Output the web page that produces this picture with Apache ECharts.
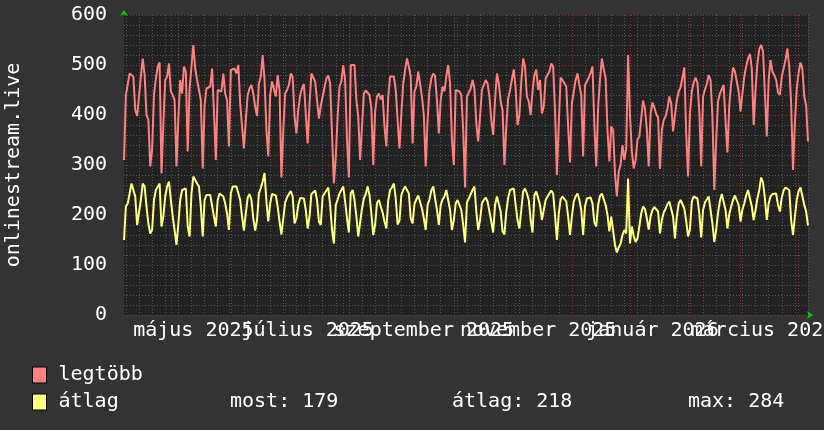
<!DOCTYPE html>
<html>
<head>
<meta charset="utf-8">
<title>onlinestream.live</title>
<script src="https://cdn.jsdelivr.net/npm/echarts@6/dist/echarts.min.js"></script>
<style>
  html, body { margin: 0; padding: 0; background: #333333; }
  #chart { width: 824px; height: 430px; }
</style>
</head>
<body>
<div id="chart"></div>
<script>
  // napi értékek, az első nap 2025-04-06
  const startDate = '2025-04-06'

  const legtobb = [
    310, 440, 437, 483, 485, 477, 410, 398, 437, 477, 513, 480, 400, 390, 297, 330, 440, 473, 497, 505,
    283, 383, 470, 477, 503, 447, 440, 430, 297, 393, 470, 443, 497, 487, 327, 453, 457, 540, 493, 470,
    473, 430, 293, 420, 453, 453, 457, 493, 407, 310, 450, 450, 447, 483, 443, 430, 337, 490, 493, 493,
    483, 500, 423, 377, 333, 390, 440, 453, 460, 443, 417, 398, 463, 477, 520, 470, 370, 317, 440, 467,
    465, 437, 480, 450, 275, 370, 443, 450, 460, 483, 477, 397, 363, 410, 440, 453, 462, 403, 343, 423,
    483, 480, 467, 430, 393, 418, 437, 437, 473, 479, 463, 363, 263, 317, 397, 457, 467, 500, 470, 350,
    275, 500, 503, 500, 430, 397, 310, 377, 443, 449, 449, 440, 413, 300, 407, 437, 443, 431, 440, 377,
    337, 437, 477, 480, 477, 450, 390, 333, 403, 463, 490, 513, 497, 477, 343, 447, 457, 487, 483, 437,
    400, 297, 390, 450, 473, 483, 478, 430, 363, 430, 457, 447, 477, 500, 463, 350, 300, 450, 453, 447,
    440, 370, 255, 437, 440, 453, 470, 453, 383, 347, 397, 450, 453, 470, 463, 437, 390, 360, 430, 483,
    463, 427, 410, 300, 377, 433, 450, 471, 491, 453, 380, 400, 467, 513, 497, 437, 427, 400, 447, 480,
    491, 450, 470, 403, 417, 473, 480, 487, 503, 497, 410, 280, 383, 475, 470, 469, 457, 377, 305, 423,
    447, 470, 483, 460, 440, 317, 460, 467, 475, 485, 497, 380, 297, 415, 470, 513, 492, 473, 370, 307,
    377, 370, 283, 237, 287, 301, 340, 310, 333, 520, 400, 327, 293, 310, 351, 357, 357, 429, 413, 370,
    297, 403, 425, 415, 402, 395, 292, 370, 390, 397, 413, 437, 423, 367, 370, 430, 447, 455, 453, 495,
    363, 277, 403, 447, 465, 475, 465, 407, 297, 437, 451, 462, 480, 470, 397, 250, 350, 427, 443, 442,
    460, 387, 325, 420, 463, 495, 487, 483, 447, 407, 443, 477, 497, 513, 522, 493, 380, 450, 503, 532,
    540, 527, 443, 357, 470, 510, 487, 480, 470, 445, 440, 477, 493, 510, 533, 497, 423, 290, 383, 453,
    485, 505, 493, 437, 419, 347
  ]

  const atlag = [
    150, 217, 223, 243, 263, 267, 237, 180, 177, 230, 263, 257, 217, 183, 163, 170, 230, 250, 250, 263,
    177, 197, 237, 257, 267, 230, 197, 170, 140, 183, 230, 250, 250, 253, 177, 157, 243, 277, 270, 263,
    257, 217, 157, 230, 240, 243, 240, 237, 197, 177, 230, 243, 243, 237, 223, 203, 170, 243, 257, 257,
    257, 255, 230, 197, 169, 203, 235, 242, 230, 193, 169, 190, 243, 254, 267, 284, 227, 187, 223, 242,
    243, 239, 217, 187, 161, 162, 225, 235, 242, 248, 237, 183, 193, 220, 234, 237, 233, 210, 173, 197,
    242, 240, 249, 230, 187, 180, 237, 243, 249, 255, 220, 170, 143, 220, 231, 243, 250, 257, 227, 193,
    165, 243, 250, 230, 197, 157, 160, 213, 233, 242, 257, 240, 203, 160, 180, 224, 230, 229, 205, 187,
    173, 229, 250, 255, 263, 233, 181, 189, 240, 250, 257, 261, 243, 193, 183, 222, 231, 239, 237, 213,
    193, 170, 220, 231, 249, 257, 253, 210, 180, 220, 231, 237, 250, 247, 210, 170, 190, 223, 230, 233,
    210, 180, 145, 225, 233, 237, 250, 257, 207, 170, 190, 223, 230, 235, 227, 207, 187, 165, 220, 237,
    237, 207, 167, 161, 207, 234, 250, 253, 253, 220, 190, 173, 210, 247, 253, 243, 230, 190, 165, 240,
    247, 244, 220, 190, 190, 230, 237, 243, 249, 243, 200, 150, 203, 231, 237, 237, 227, 197, 160, 197,
    227, 237, 243, 230, 210, 160, 217, 233, 235, 235, 223, 185, 177, 220, 238, 243, 243, 220, 200, 167,
    197, 198, 140, 125, 135, 143, 160, 170, 163, 273, 143, 177, 158, 146, 153, 177, 203, 217, 212, 193,
    171, 197, 210, 216, 217, 207, 163, 190, 205, 212, 222, 227, 230, 197, 153, 197, 223, 230, 234, 213,
    188, 157, 172, 227, 237, 234, 233, 203, 155, 210, 225, 231, 237, 240, 183, 146, 170, 205, 228, 242,
    243, 210, 173, 202, 217, 230, 239, 240, 220, 187, 211, 223, 239, 250, 247, 217, 190, 210, 233, 250,
    275, 265, 233, 190, 223, 237, 242, 240, 243, 220, 207, 235, 249, 255, 259, 250, 190, 160, 197, 230,
    248, 255, 252, 220, 207, 179
  ]

  // feliratok a hónapok közepe táján, kéthavonta
  const monthLabels = ['május 2025', 'július 2025', 'szeptember 2025', 'november 2025', 'január 2026', 'március 2026']
  const monthLabelDates = ['2025-05-13', '2025-07-13', '2025-09-13', '2025-11-13', '2026-01-13', '2026-03-13']

  const seriesNames = ['legtöbb', 'átlag']
  const seriesColors = ['#ff8080', '#ffff80']
  const statTexts = ['most: 179', 'átlag: 218', 'max: 284']

  const font = 'DejaVu Sans Mono'
  const textColor = '#ffffff'
  const minorGrid = '#555555'
  const majorGrid = '#843232'

  const days = legtobb.map((v, i) => {
    const d = new Date(Date.parse(startDate + 'T00:00:00Z') + i * 86400000)
    return d.toISOString().slice(0, 10)
  })

  // a feliratok egymásra lógnak, ezért két tengelyre osztjuk őket (páros / páratlan)
  function monthLabel(part) {
    return {
      interval: (i, v) => {
        const k = monthLabelDates.indexOf(v)
        return k >= 0 && k % 2 === part
      },
      formatter: v => monthLabels[monthLabelDates.indexOf(v)] || '',
      color: textColor,
      fontFamily: font,
      fontSize: 20,
      margin: 6,
      hideOverlap: false,
      showMinLabel: true,
      showMaxLabel: true
    }
  }

  const chart = echarts.init(document.getElementById('chart'))

  chart.setOption({
    animation: false,
    backgroundColor: '#333333',
    grid: {
      left: 124,
      right: 16,
      top: 15,
      bottom: 115,
      show: true,
      backgroundColor: '#222222',
      borderWidth: 0,
      outerBoundsMode: 'none'
    },
    legend: {
      orient: 'vertical',
      left: 27,
      top: 360,
      icon: 'rect',
      itemWidth: 14,
      itemHeight: 16,
      itemGap: 7,
      selectedMode: false,
      itemStyle: {
        borderColor: '#000000',
        borderWidth: 1
      },
      textStyle: {
        color: textColor,
        fontFamily: font,
        fontSize: 20,
        padding: [0, 0, 0, 7]
      },
      data: seriesNames
    },
    graphic: statTexts.map((t, i) => ({
      type: 'text',
      x: [230, 452, 688][i],
      y: 402,
      style: {
        text: t,
        fill: textColor,
        font: '20px "' + font + '"',
        verticalAlign: 'middle'
      }
    })),
    xAxis: [
      {
        type: 'category',
        data: days,
        boundaryGap: false,
        axisLine: {
          show: true,
          symbol: ['none', 'arrow'],
          symbolSize: [6, 6],
          symbolOffset: [0, 5],
          lineStyle: { color: '#00cc00', width: 0 }
        },
        axisTick: { show: false },
        axisLabel: monthLabel(0),
        splitLine: {
          show: true,
          interval: i => i % 7 === 1,
          lineStyle: { color: minorGrid, type: [1, 2], width: 1 }
        }
      },
      {
        type: 'category',
        data: days,
        boundaryGap: false,
        position: 'bottom',
        axisLine: { show: false },
        axisTick: { show: false },
        axisLabel: monthLabel(1),
        splitLine: {
          show: true,
          interval: (i, v) => v.slice(8) === '01',
          lineStyle: { color: majorGrid, type: [1, 2], width: 1 }
        }
      }
    ],
    yAxis: {
      type: 'value',
      min: 0,
      max: 600,
      interval: 100,
      name: 'onlinestream.live',
      nameLocation: 'middle',
      nameGap: 100,
      nameMoveOverlap: false,
      nameTextStyle: {
        color: textColor,
        fontFamily: font,
        fontSize: 20
      },
      axisLine: {
        show: true,
        symbol: ['none', 'arrow'],
        symbolSize: [6, 6],
        symbolOffset: [0, 5],
        lineStyle: { color: '#00cc00', width: 0 }
      },
      axisTick: { show: false },
      axisLabel: {
        color: textColor,
        fontFamily: font,
        fontSize: 20,
        margin: 17
      },
      splitLine: {
        lineStyle: { color: majorGrid, type: [1, 2], width: 1 }
      },
      minorTick: { show: false, splitNumber: 5 },
      minorSplitLine: {
        show: true,
        lineStyle: { color: minorGrid, type: [1, 2], width: 1 }
      }
    },
    series: [
      {
        name: seriesNames[0],
        type: 'line',
        data: legtobb,
        showSymbol: false,
        symbol: 'none',
        color: seriesColors[0],
        lineStyle: { width: 2, color: seriesColors[0] }
      },
      {
        name: seriesNames[1],
        type: 'line',
        data: atlag,
        showSymbol: false,
        symbol: 'none',
        color: seriesColors[1],
        lineStyle: { width: 2, color: seriesColors[1] }
      }
    ]
  })
</script>
</body>
</html>
